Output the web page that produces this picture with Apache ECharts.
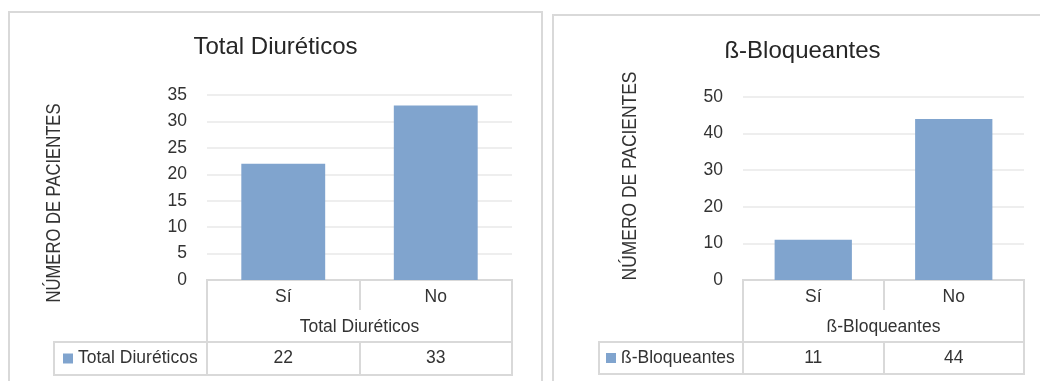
<!DOCTYPE html>
<html>
<head>
<meta charset="utf-8">
<script src="https://cdn.jsdelivr.net/npm/echarts@6/dist/echarts.min.js"></script>
<style>
html,body{margin:0;padding:0;background:#fff;}
#c{width:1040px;height:381px;}
</style>
</head>
<body>
<div id="c"></div>
<script>
// ---- data ----
const categoriesLeft = ['Sí', 'No'];
const valuesLeft = [22, 33];
const seriesNameLeft = 'Total Diuréticos';
const yMaxLeft = 35, yStepLeft = 5;

const categoriesRight = ['Sí', 'No'];
const valuesRight = [11, 44];
const seriesNameRight = 'ß-Bloqueantes';
const yMaxRight = 50, yStepRight = 10;

const yAxisTitle = 'NÚMERO DE PACIENTES';

// ---- style / layout ----
const FONT = '"Liberation Sans",Arial,sans-serif';
const FS = 17.5;
const TXT = '#333333';
const LINE = '#d9d9d9';
const BAR = '#80a4ce';

const panels = [
  {cats: categoriesLeft, vals: valuesLeft, name: seriesNameLeft, max: yMaxLeft, step: yStepLeft,
   left: 207, right: 512, top: 95, axisY: 280, tblBottom: 375, legendLeft: 54,
   frame: [9, 12, 542], titleX: 275.5, titleY: 47, yNameX: 54, yNameY: 203, yNameFs: 20, legendIconX: 63},
  {cats: categoriesRight, vals: valuesRight, name: seriesNameRight, max: yMaxRight, step: yStepRight,
   left: 743, right: 1024, top: 97, axisY: 280, tblBottom: 374, legendLeft: 599,
   frame: [553, 15, 1060], titleX: 802.5, titleY: 51.5, yNameX: 630, yNameY: 176, yNameFs: 21, legendIconX: 606}
];

const grid = [], xAxis = [], yAxis = [], series = [], legend = [], graphic = [], title = [];
panels.forEach((p, i) => {
  grid.push({left: p.left, top: p.top, width: p.right - p.left, height: p.axisY - p.top, containLabel: false});
  title.push({text: p.name, left: p.titleX, top: p.titleY - 15, textAlign: 'center', padding: 0,
    textStyle: {fontFamily: FONT, fontSize: 24, fontWeight: 'normal', color: '#262626', lineHeight: 30}});
  xAxis.push({
    type: 'category', gridIndex: i, data: p.cats, position: 'bottom',
    axisLine: {show: true, lineStyle: {color: LINE, width: 2}},
    axisTick: {show: true, length: 30, lineStyle: {color: LINE, width: 2}},
    axisLabel: {fontFamily: FONT, fontSize: FS, color: TXT, margin: 8},
    name: p.name, nameLocation: 'middle', nameGap: 38,
    nameTextStyle: {fontFamily: FONT, fontSize: FS, color: TXT},
    splitLine: {show: false}
  });
  xAxis.push({
    type: 'category', gridIndex: i, data: p.cats, position: 'bottom', offset: 62,
    axisLine: {show: true, lineStyle: {color: LINE, width: 2}},
    axisTick: {show: true, length: p.tblBottom - p.axisY - 62, lineStyle: {color: LINE, width: 2}},
    axisLabel: {fontFamily: FONT, fontSize: FS, color: TXT, margin: 7,
      formatter: (v, idx) => String(p.vals[idx])},
    splitLine: {show: false}
  });
  yAxis.push({
    type: 'value', gridIndex: i, min: 0, max: p.max, interval: p.step,
    axisLine: {show: false}, axisTick: {show: false},
    axisLabel: {fontFamily: FONT, fontSize: FS, color: TXT, margin: 20},
    splitLine: {show: true, lineStyle: {color: '#eeeeee', width: 2}}
  });
  series.push({
    type: 'bar', name: p.name, xAxisIndex: i * 2, yAxisIndex: i, data: p.vals,
    barWidth: '55%', itemStyle: {color: BAR}, z: 3
  });
  legend.push({
    data: [p.name], left: p.legendIconX, top: (p.axisY + 62 + p.tblBottom) / 2 - 10,
    icon: 'rect', itemWidth: 10, itemHeight: 10, itemGap: 5, padding: 0,
    textStyle: {fontFamily: FONT, fontSize: FS, color: TXT, lineHeight: 20, padding: 0},
    selectedMode: false
  });
  // chart frame
  graphic.push({type: 'rect', silent: true, z: -1,
    shape: {x: p.frame[0], y: p.frame[1], width: p.frame[2] - p.frame[0], height: 420},
    style: {fill: 'none', stroke: LINE, lineWidth: 2}});
  // data table outline
  graphic.push({type: 'rect', silent: true,
    shape: {x: p.left, y: p.axisY, width: p.right - p.left, height: p.tblBottom - p.axisY},
    style: {fill: 'none', stroke: LINE, lineWidth: 2}});
  // legend cell
  graphic.push({type: 'rect', silent: true,
    shape: {x: p.legendLeft, y: p.axisY + 62, width: p.left - p.legendLeft, height: p.tblBottom - p.axisY - 62},
    style: {fill: 'none', stroke: LINE, lineWidth: 2}});
  // y axis title (narrow look)
  graphic.push({type: 'text', silent: true, x: p.yNameX, y: p.yNameY, rotation: Math.PI / 2, scaleX: 0.83,
    style: {text: yAxisTitle, fontFamily: FONT, fontSize: p.yNameFs, fill: TXT, align: 'center', verticalAlign: 'middle'}});
});

const chart = echarts.init(document.getElementById('c'), null, {renderer: 'canvas'});
chart.setOption({
  animation: false,
  backgroundColor: '#ffffff',
  title, grid, xAxis, yAxis, series, legend, graphic
});
</script>
</body>
</html>
